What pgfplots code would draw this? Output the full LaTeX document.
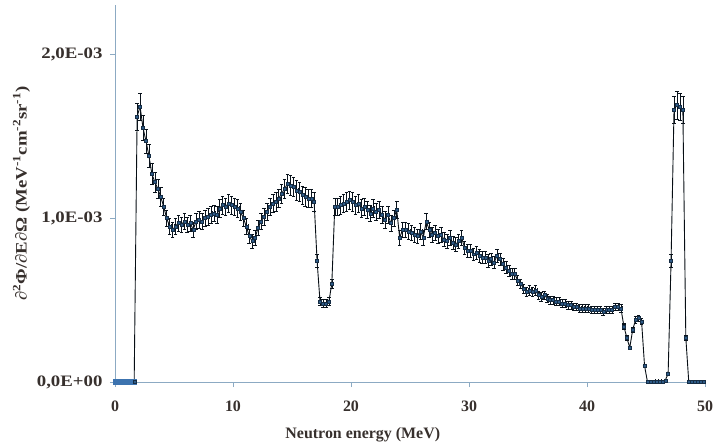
\documentclass[border=0pt]{standalone}
\usepackage{pgfplots}
\pgfplotsset{compat=1.18}
\usepackage{pgfplotstable}
\usepackage{fontspec}
\setmainfont{Liberation Serif}
\newfontfamily\widefont[FakeStretch=1.18]{Liberation Serif}

\definecolor{axcol}{RGB}{140,170,195}
\definecolor{txt}{RGB}{55,48,45}
\definecolor{mk}{RGB}{45,90,135}
\definecolor{zline}{RGB}{60,115,175}

% neutron spectrum, E (MeV) and value in units of 1e-3
\pgfplotstableread{
E y
0.125 0
0.375 0
0.625 0
0.875 0
1.125 0
1.375 0
1.625 0
1.875 1.62
2.125 1.68
2.375 1.55
2.625 1.47
2.875 1.38
3.125 1.27
3.375 1.22
3.625 1.18
3.875 1.13
4.125 1.07
4.375 1.00
4.625 0.95
4.875 0.93
5.125 0.95
5.375 0.97
5.625 0.96
5.875 0.98
6.125 0.96
6.375 0.97
6.625 0.93
6.875 0.98
7.125 0.99
7.375 0.98
7.625 1.00
7.875 1.01
8.125 1.02
8.375 1.03
8.625 1.02
8.875 1.06
9.125 1.08
9.375 1.07
9.625 1.09
9.875 1.08
10.125 1.07
10.375 1.06
10.625 1.04
10.875 1.00
11.125 0.95
11.375 0.89
11.625 0.86
11.875 0.88
12.125 0.94
12.375 0.98
12.625 1.01
12.875 1.04
13.125 1.07
13.375 1.09
13.625 1.10
13.875 1.12
14.125 1.15
14.375 1.18
14.625 1.21
14.875 1.20
15.125 1.19
15.375 1.17
15.625 1.16
15.875 1.14
16.125 1.13
16.375 1.12
16.625 1.12
16.875 1.10
17.125 0.74
17.375 0.49
17.625 0.48
17.875 0.48
18.125 0.49
18.375 0.60
18.625 1.07
18.875 1.07
19.125 1.08
19.375 1.09
19.625 1.10
19.875 1.11
20.125 1.10
20.375 1.08
20.625 1.09
20.875 1.06
21.125 1.07
21.375 1.05
21.625 1.03
21.875 1.06
22.125 1.04
22.375 1.05
22.625 1.02
22.875 0.99
23.125 1.02
23.375 0.97
23.625 1.00
23.875 1.05
24.125 0.88
24.375 0.93
24.625 0.93
24.875 0.92
25.125 0.91
25.375 0.90
25.625 0.89
25.875 0.92
26.125 0.88
26.375 0.98
26.625 0.93
26.875 0.90
27.125 0.91
27.375 0.89
27.625 0.90
27.875 0.87
28.125 0.86
28.375 0.88
28.625 0.85
28.875 0.84
29.125 0.86
29.375 0.88
29.625 0.82
29.875 0.80
30.125 0.80
30.375 0.78
30.625 0.79
30.875 0.77
31.125 0.76
31.375 0.76
31.625 0.74
31.875 0.75
32.125 0.73
32.375 0.77
32.625 0.75
32.875 0.72
33.125 0.70
33.375 0.68
33.625 0.66
33.875 0.66
34.125 0.62
34.375 0.60
34.625 0.57
34.875 0.55
35.125 0.56
35.375 0.55
35.625 0.56
35.875 0.53
36.125 0.52
36.375 0.53
36.625 0.51
36.875 0.50
37.125 0.50
37.375 0.49
37.625 0.49
37.875 0.48
38.125 0.48
38.375 0.47
38.625 0.47
38.875 0.46
39.125 0.46
39.375 0.45
39.625 0.45
39.875 0.45
40.125 0.45
40.375 0.44
40.625 0.44
40.875 0.44
41.125 0.44
41.375 0.43
41.625 0.44
41.875 0.44
42.125 0.44
42.375 0.46
42.625 0.46
42.875 0.45
43.125 0.34
43.375 0.27
43.625 0.21
43.875 0.32
44.125 0.38
44.375 0.39
44.625 0.37
44.875 0.10
45.125 0.0
45.375 0.0
45.625 0.0
45.875 0.005
46.125 0.005
46.375 0.005
46.625 0.01
46.875 0.05
47.125 0.74
47.375 1.66
47.625 1.69
47.875 1.68
48.125 1.66
48.375 0.27
48.625 0
48.875 0
49.125 0
49.375 0
49.625 0
49.875 0
}\spectrum

\begin{document}
\begin{tikzpicture}
\begin{axis}[
  name=ax,
  scale only axis,
  width=590bp, height=377bp,
  xmin=0, xmax=50, ymin=0, ymax=2.3,
  clip=false,
  axis lines*=left,
  axis line style={axcol, line width=0.8pt},
  every tick/.style={axcol, line width=0.8pt},
  tick align=outside,
  major tick length=5bp,
  /pgf/number format/assume math mode=true,
  xtick={0,10,20,30,40,50},
  ytick={0,1,2},
  yticklabels={{0,0E+00},{1,0E-03},{2,0E-03}},
  ticklabel style={font=\fontsize{16}{18}\selectfont\bfseries, text=txt},
  yticklabel style={font=\widefont\fontsize{16}{18}\selectfont\bfseries, xshift=-4bp},
  xticklabel style={yshift=-10bp},
  xlabel={Neutron energy (MeV)},
  ylabel={∂\textsuperscript{2}Φ/∂E∂Ω (MeV\textsuperscript{-1}cm\textsuperscript{-2}sr\textsuperscript{-1})},
  label style={font=\fontsize{16}{18}\selectfont\bfseries, text=txt},
  ylabel style={font=\widefont\fontsize{16}{18}\selectfont\bfseries},
  xlabel style={at={(ticklabel cs:0.42)}, yshift=-9bp},
]
% zero stretch below 2 MeV shows as a thick blue band in the original
\addplot[zline, line width=3pt, mark=square*, mark size=1.6pt,
  mark options={fill=zline, draw=zline}, restrict x to domain=0:1.7]
  table[x=E, y=y] {\spectrum};
\addplot[black!85!mk, line width=0.9pt, restrict x to domain=1.5:50,
  mark=square*, mark size=1.5pt,
  mark options={fill=mk, draw=mk!50!black, line width=0.3pt},
  error bars/.cd, x dir=both, x fixed=0.125, y dir=both, y fixed relative=0.05,
  error bar style={black!80!mk, line width=0.5pt},
  error mark options={black!80!mk, mark size=1.8pt, rotate=90}]
  table[x=E, y=y] {\spectrum};
\end{axis}
\pgfresetboundingbox
\path[use as bounding box] ([shift={(-115bp,-63bp)}]ax.south west) rectangle ([shift={(8bp,5bp)}]ax.north east);
\end{tikzpicture}
\end{document}
